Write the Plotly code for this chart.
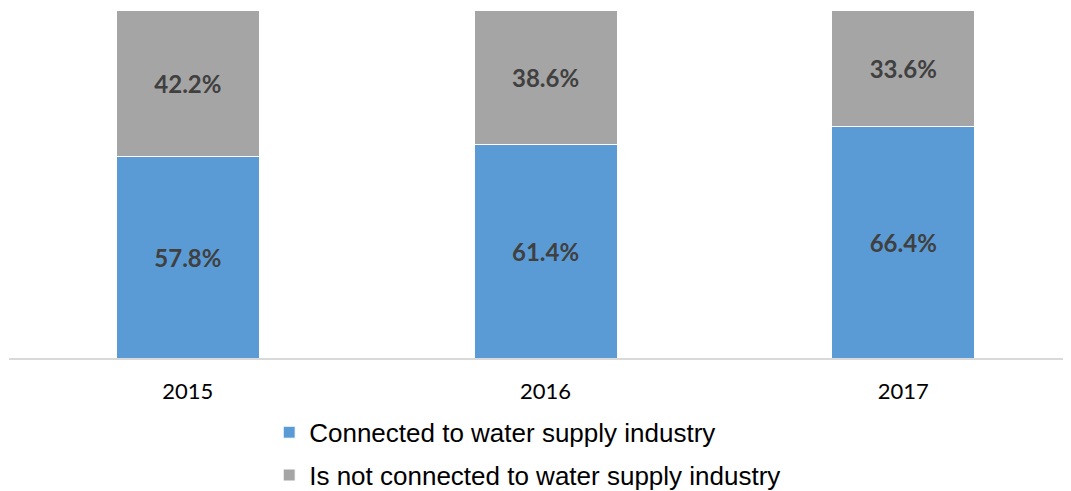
import plotly.graph_objects as go

years = ["2015", "2016", "2017"]
connected = [57.8, 61.4, 66.4]
not_connected = [42.2, 38.6, 33.6]

fig = go.Figure()

fig.add_trace(go.Bar(
    x=years, y=connected,
    name="Connected to water supply industry",
    marker=dict(color="#5B9BD5", line=dict(color="white", width=1)),
    text=[f"{v:.1f}%" for v in connected],
    textposition="inside", insidetextanchor="middle",
    textfont=dict(family="Lato", size=24, color="#404040", weight="bold"),
    width=0.4, legendgroup="a",
))
fig.add_trace(go.Bar(
    x=years, y=not_connected,
    name="Is not connected to water supply industry",
    marker=dict(color="#A5A5A5", line=dict(color="white", width=1)),
    text=[f"{v:.1f}%" for v in not_connected],
    textposition="inside", insidetextanchor="middle",
    textfont=dict(family="Lato", size=24, color="#404040", weight="bold"),
    width=0.4, legendgroup="b",
))

# page body adds an 8px margin, so the figure is sized/offset to compensate
fig.update_layout(
    barmode="stack",
    width=1063, height=483,
    margin=dict(l=1, r=0, t=2, b=133, autoexpand=False),
    plot_bgcolor="white", paper_bgcolor="white",
    xaxis=dict(
        type="category", range=[-0.5, 2.469],
        showline=True, linecolor="#D9D9D9", linewidth=1.5,
        ticks="", ticklabelstandoff=13,
        tickfont=dict(family="Lato", size=22, color="black"),
    ),
    yaxis=dict(range=[0, 100], visible=False, showgrid=False),
    legend=dict(
        orientation="v", x=0.245, xanchor="left", y=-0.146, yanchor="top",
        traceorder="grouped", tracegroupgap=6,
        font=dict(family="Liberation Sans", size=26, color="black"),
        itemwidth=30,
    ),
    showlegend=True,
)

fig.write_html("out.html")
